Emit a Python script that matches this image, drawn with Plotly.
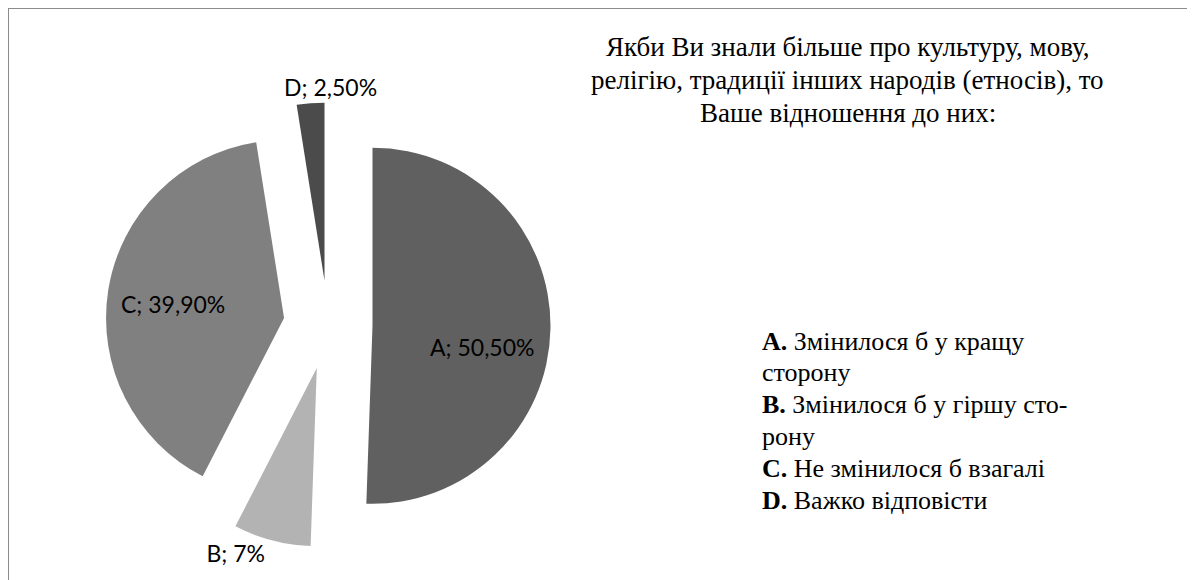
import plotly.graph_objects as go

categories = ["A", "B", "C", "D"]
values = [50.5, 7.0, 39.9, 2.5]
value_labels = ["50,50%", "7%", "39,90%", "2,50%"]
colors = ["#606060", "#b3b3b3", "#808080", "#4b4b4b"]
text_pos = ["none", "outside", "none", "none"]
pulls = [0.25, 0.25, 0.25, 0.25]

# label centres (px) for the labels placed as annotations
label_xy = {0: (482, 347), 2: (173, 304), 3: (330, 87)}

title_lines = [
    "Якби Ви знали більше про культуру, мову,",
    "релігію, традиції інших народів (етносів), то",
    "Ваше відношення до них:",
]
legend_lines = [
    ("A.", "Змінилося б у кращу"),
    ("", "сторону"),
    ("B.", "Змінилося б у гіршу сто-"),
    ("", "рону"),
    ("C.", "Не змінилося б взагалі"),
    ("D.", "Важко відповісти"),
]

W, H = 1195, 580
OFF = 8  # page body margin compensation (px)


def px(x):
    return (x - OFF) / W


def py(y):
    return 1 - (y - OFF) / H


texts = [f"{c}; {v}" for c, v in zip(categories, value_labels)]
label_font = dict(family="Lato", size=23, color="black")

fig = go.Figure()
fig.add_trace(go.Pie(
    labels=categories,
    values=values,
    text=texts,
    textinfo="text",
    textposition=text_pos,
    insidetextorientation="horizontal",
    direction="clockwise",
    rotation=0,
    sort=False,
    pull=pulls,
    automargin=False,
    marker=dict(colors=colors, line=dict(width=0)),
    textfont=label_font,
    insidetextfont=label_font,
    outsidetextfont=label_font,
    domain=dict(x=[px(105.5), px(550.5)], y=[py(547.5), py(102.5)]),
    showlegend=False,
    hoverinfo="label+value",
))

annotations = []
for idx, (lx, ly) in label_xy.items():
    annotations.append(dict(
        text=texts[idx], x=px(lx), y=py(ly), xref="paper", yref="paper",
        xanchor="center", yanchor="middle", showarrow=False, font=label_font,
    ))

title_y0, title_dy = 47, 33
for i, line in enumerate(title_lines):
    annotations.append(dict(
        text=line, x=px(848), y=py(title_y0 + i * title_dy),
        xref="paper", yref="paper", xanchor="center", yanchor="middle",
        showarrow=False, font=dict(family="Liberation Serif", size=27, color="black"),
    ))

leg_y0, leg_dy = 341, 31.8
for i, (key, line) in enumerate(legend_lines):
    txt = (f"<b>{key}</b> " if key else "") + line
    annotations.append(dict(
        text=txt, x=px(760), y=py(leg_y0 + i * leg_dy),
        xref="paper", yref="paper", xanchor="left", yanchor="middle",
        showarrow=False, font=dict(family="Liberation Serif", size=26, color="black"),
    ))

shapes = [
    dict(type="line", xref="paper", yref="paper", x0=px(8), x1=1, y0=py(8), y1=py(8),
         line=dict(color="#8c8c8c", width=2)),
    dict(type="line", xref="paper", yref="paper", x0=px(8), x1=px(8), y0=0, y1=py(8),
         line=dict(color="#8c8c8c", width=2)),
]

fig.update_layout(
    width=W, height=H,
    margin=dict(l=0, r=0, t=0, b=0, pad=0, autoexpand=False),
    paper_bgcolor="white", plot_bgcolor="white",
    annotations=annotations, shapes=shapes,
)

fig.write_html("out.html")
